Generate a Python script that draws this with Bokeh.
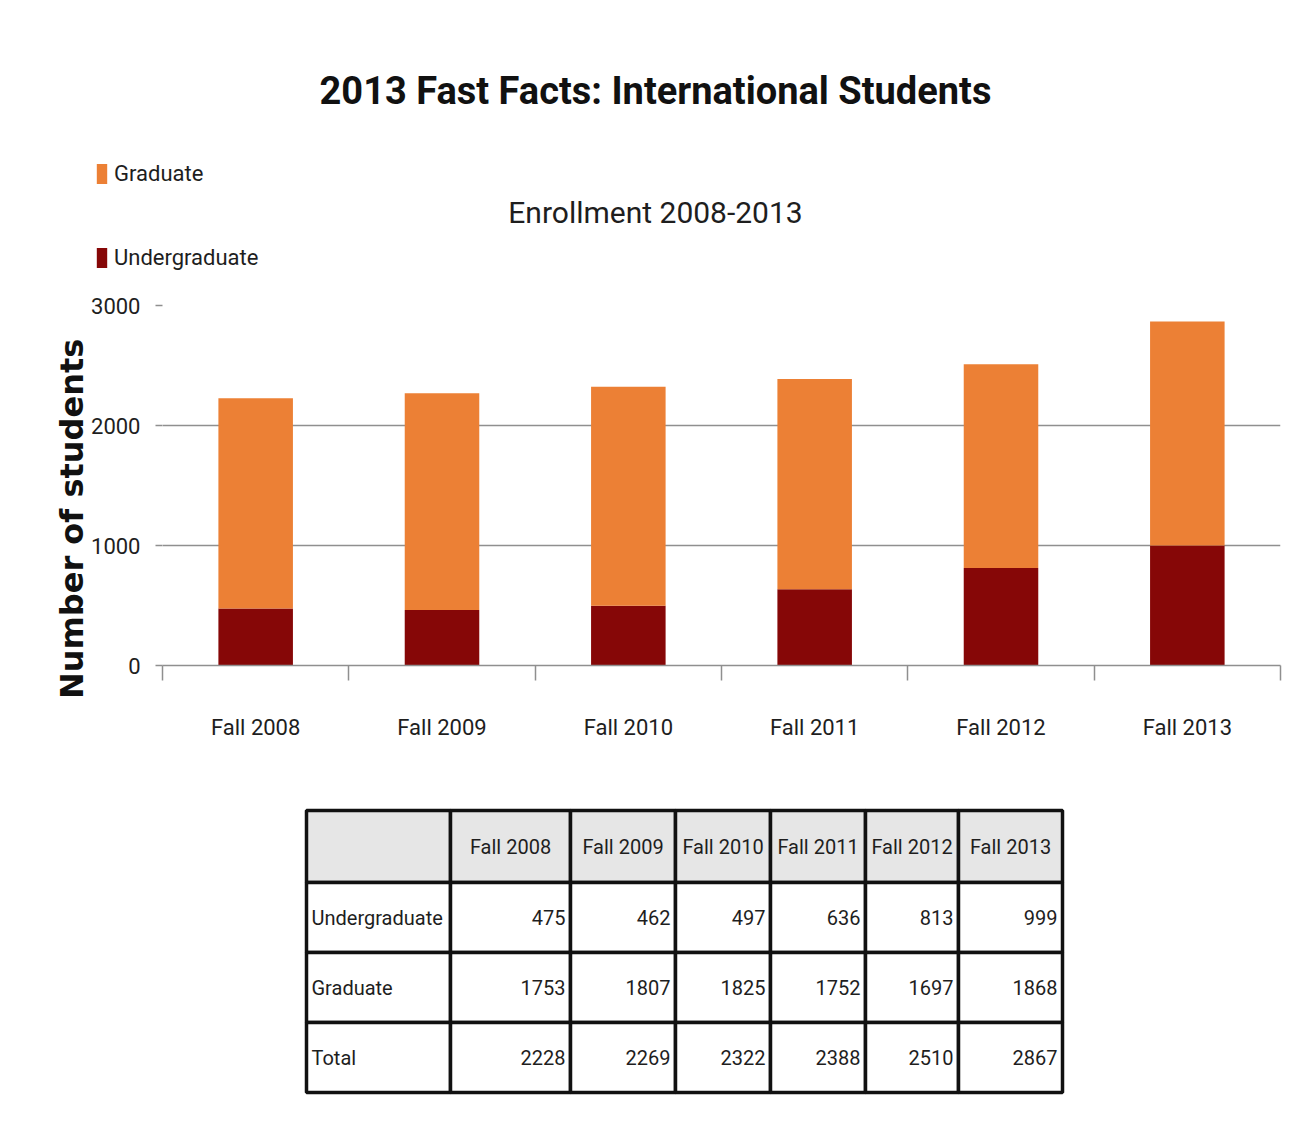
import numpy as np
from bokeh.plotting import figure
from bokeh.models import (Range1d, FixedTicker, Label, Legend, LegendItem, ColumnDataSource)
from bokeh.layouts import column
from bokeh.embed import file_html
from bokeh.resources import INLINE
from bokeh.core.properties import value

# ---- data ----
categories = ["Fall 2008", "Fall 2009", "Fall 2010", "Fall 2011", "Fall 2012", "Fall 2013"]
undergraduate = [475, 462, 497, 636, 813, 999]
graduate = [1753, 1807, 1825, 1752, 1697, 1868]
total = [2228, 2269, 2322, 2388, 2510, 2867]
y_ticks = [0, 1000, 2000, 3000]
series_names = ["Undergraduate", "Graduate"]

title_text = "2013 Fast Facts: International Students"
subtitle_text = "Enrollment 2008-2013"
y_label_text = "Number of students"

ORANGE = "#ec8035"
DARKRED = "#860707"
GRID = "#8f8f8f"
TXT = "#1e1e1e"
FONT = "Roboto"

W = 1313
BL, FW, BR = 162, 1118, 33
n = len(categories)
centers = list(np.arange(n) + 0.5)
bounds = list(np.arange(n + 1).astype(float))


def blank_fig(height, left=BL, fw=FW, right=BR):
    f = figure(frame_width=fw, frame_height=height, output_backend="svg", toolbar_location=None,
               x_range=Range1d(BL, BL + fw), y_range=Range1d(height, 0),
               x_axis_location=None, y_axis_location=None,
               min_border_left=left, min_border_right=right, min_border_top=0, min_border_bottom=0)
    f.grid.visible = False
    f.outline_line_color = None
    return f


# ---- header: title, subtitle, legend ----
H1 = 270
h = blank_fig(H1, left=0, fw=W - BL, right=0)
h.add_layout(Label(x=655, y=90, text=title_text, text_font=FONT, text_font_style="bold",
                   text_font_size="38px", text_align="center", text_baseline="middle",
                   text_color="#111111"))
h.add_layout(Label(x=655, y=212, text=subtitle_text, text_font=FONT, text_font_size="30px",
                   text_align="center", text_baseline="middle", text_color=TXT))
lg_grad = h.vbar(x=[BL], top=[0], bottom=[0], width=0, fill_color=ORANGE, line_color=None)
lg_under = h.vbar(x=[BL], top=[0], bottom=[0], width=0, fill_color=DARKRED, line_color=None)
legend = Legend(items=[LegendItem(label=series_names[1], renderers=[lg_grad]),
                       LegendItem(label=series_names[0], renderers=[lg_under])],
                location=(95, 0), orientation="vertical",
                glyph_width=13, glyph_height=25, label_height=25, label_standoff=6,
                spacing=59, padding=0, margin=0,
                border_line_color=None, background_fill_alpha=0,
                label_text_font=FONT, label_text_font_size="22px", label_text_color=TXT)
h.add_layout(legend, "center")

# ---- chart ----
src = ColumnDataSource(dict(x=centers, Undergraduate=undergraduate, Graduate=graduate))
p = figure(frame_width=FW, frame_height=360, output_backend="svg", toolbar_location=None,
           x_range=Range1d(0, n), y_range=Range1d(0, 3000),
           min_border_left=BL, min_border_right=BR, min_border_top=35, min_border_bottom=115)
p.outline_line_color = None
p.xgrid.grid_line_color = None
p.ygrid.grid_line_color = GRID
p.ygrid.grid_line_width = 1.5

p.vbar_stack(series_names, x="x", width=0.4, source=src,
             color=[DARKRED, ORANGE], line_color=None)

p.yaxis.ticker = FixedTicker(ticks=y_ticks)
p.yaxis.axis_line_color = None
p.yaxis.major_tick_line_color = GRID
p.yaxis.major_tick_line_width = 1.5
p.yaxis.major_tick_out = 7
p.yaxis.major_tick_in = 0
p.yaxis.minor_tick_line_color = None
p.yaxis.major_label_standoff = 15
p.yaxis.major_label_text_font = FONT
p.yaxis.major_label_text_font_size = "22px"
p.yaxis.major_label_text_color = TXT
p.yaxis.axis_label = y_label_text + "\u00a0" * 6
p.yaxis.axis_label_text_font = "DejaVu Sans"
p.yaxis.axis_label_text_font_style = "bold"
p.yaxis.axis_label_text_font_size = "32px"
p.yaxis.axis_label_text_color = "#111111"
p.yaxis.axis_label_standoff = -3

p.xaxis.ticker = FixedTicker(ticks=centers, minor_ticks=bounds)
p.xaxis.major_label_overrides = {c: lab for c, lab in zip(centers, categories)}
p.xaxis.axis_line_color = GRID
p.xaxis.axis_line_width = 1.5
p.xaxis.major_tick_line_color = None
p.xaxis.major_tick_out = 0
p.xaxis.minor_tick_line_color = GRID
p.xaxis.minor_tick_line_width = 1.5
p.xaxis.minor_tick_out = 15
p.xaxis.minor_tick_in = 0
p.xaxis.major_label_standoff = 34
p.xaxis.major_label_text_font = FONT
p.xaxis.major_label_text_font_size = "22px"
p.xaxis.major_label_text_color = TXT

# ---- table ----
H3 = 1141 - H1 - (35 + 360 + 115)
col_edges = [306, 450, 570, 675, 770, 865, 958, 1062]
row_edges = [30, 102, 172, 242, 312]
row_names = ["Undergraduate", "Graduate", "Total"]
row_values = [undergraduate, graduate, total]

t = blank_fig(H3)
L, R, T, B, F = [], [], [], [], []
for ri in range(len(row_edges) - 1):
    for ci in range(len(col_edges) - 1):
        L.append(col_edges[ci]); R.append(col_edges[ci + 1])
        T.append(row_edges[ri]); B.append(row_edges[ri + 1])
        F.append("#e6e6e6" if ri == 0 else "#ffffff")
t.quad(left=L, right=R, top=T, bottom=B, fill_color=F, line_color="#111111", line_width=3.5)

hx = [(col_edges[i + 1] + col_edges[i]) / 2 for i in range(1, len(col_edges) - 1)]
hy = [(row_edges[0] + row_edges[1]) / 2] * n
t.text(x=hx, y=hy, text=categories, text_align="center", text_baseline="middle",
       text_font=value(FONT), text_font_size="20px", text_color=TXT)

nx, ny, nt = [], [], []
lx, ly = [], []
for ri, (name, vals) in enumerate(zip(row_names, row_values)):
    yc = (row_edges[ri + 1] + row_edges[ri + 2]) / 2
    lx.append(col_edges[0] + 5); ly.append(yc)
    for ci, v in enumerate(vals):
        nx.append(col_edges[ci + 2] - 5); ny.append(yc); nt.append(str(v))
t.text(x=lx, y=ly, text=row_names, text_align="left", text_baseline="middle",
       text_font=value(FONT), text_font_size="20px", text_color=TXT)
t.text(x=nx, y=ny, text=nt, text_align="right", text_baseline="middle",
       text_font=value(FONT), text_font_size="20px", text_color=TXT)

layout = column(h, p, t, spacing=0)
open("out.html", "w").write(file_html(layout, INLINE))
